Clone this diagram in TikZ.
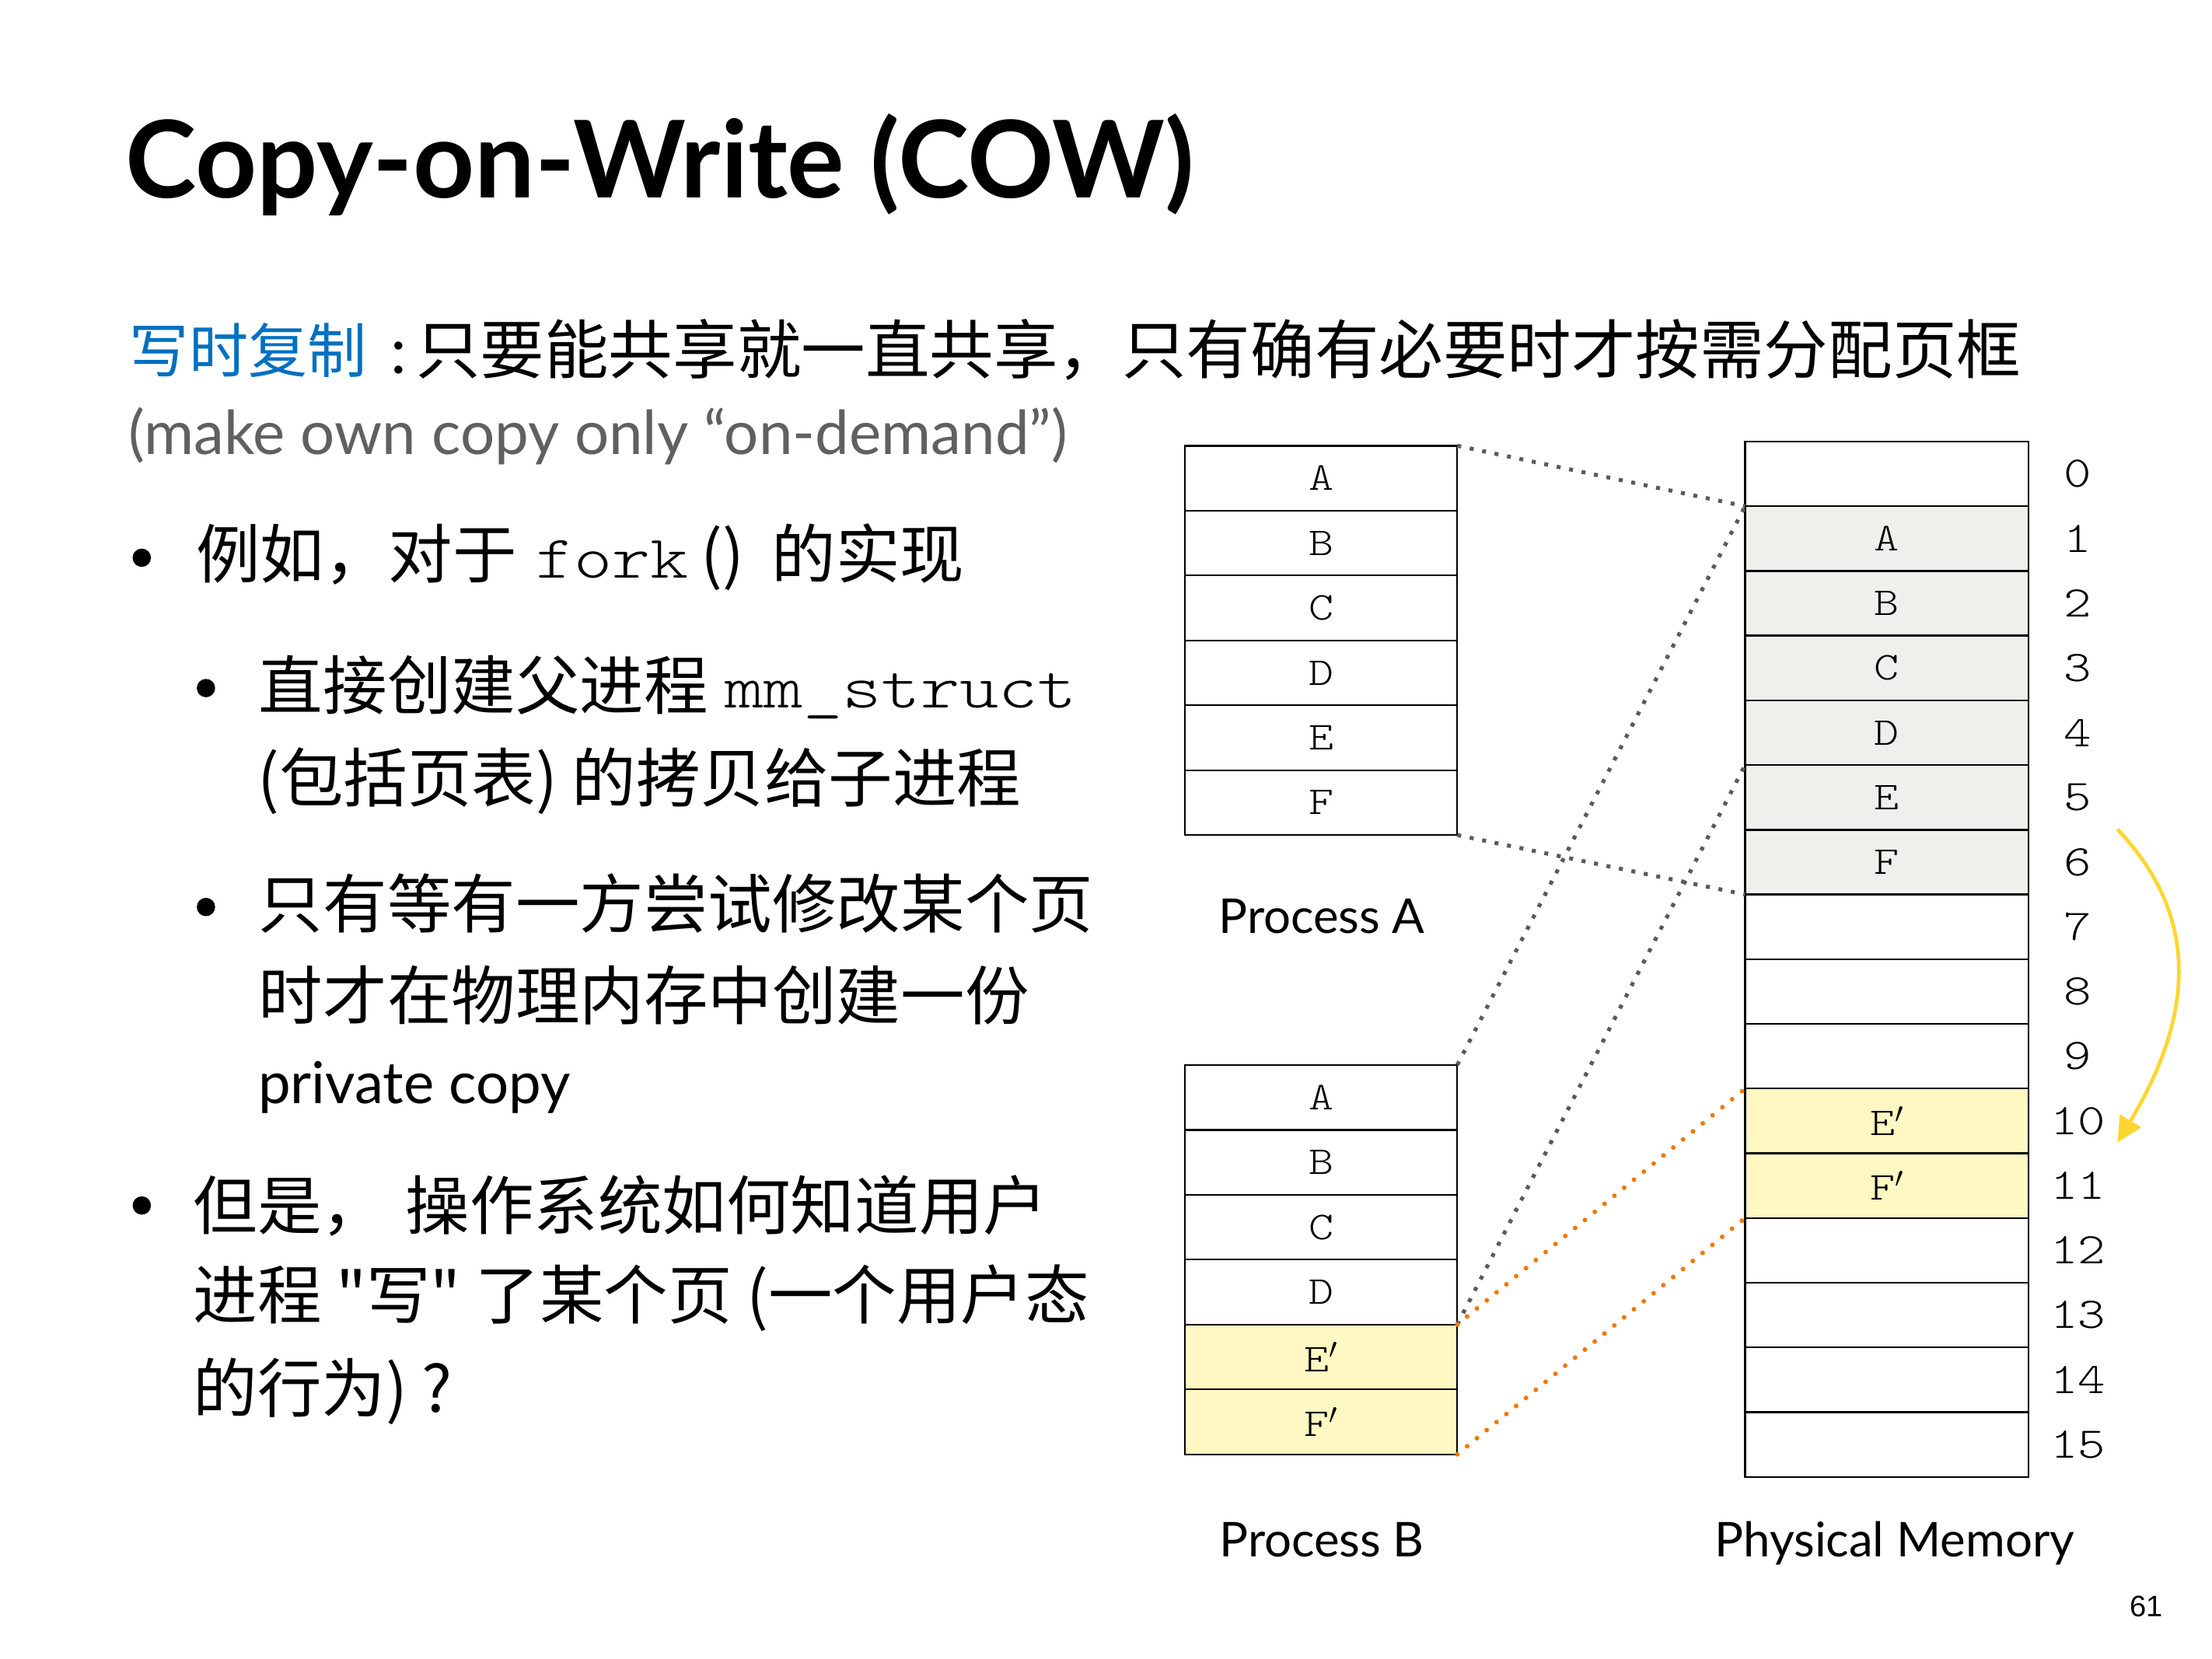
\documentclass[tikz,border=0pt]{standalone}
\usepackage{fontspec}
\setmainfont{Lato}
\newfontfamily\cjk{Noto Sans CJK SC}[Ligatures=TeXOff]
\newfontfamily\pgnum{Liberation Sans}
\newfontfamily\mono{lmmonolt10-regular.otf}[FakeStretch=1.2]
\usetikzlibrary{arrows.meta}

\definecolor{cowblue}{RGB}{0,112,192}
\definecolor{subgray}{RGB}{96,96,96}
\definecolor{dotgray}{RGB}{90,90,90}
\definecolor{cworange}{RGB}{240,120,0}
\definecolor{sharedfill}{RGB}{239,240,236}
\definecolor{copyfill}{RGB}{255,248,195}
\definecolor{arrowgold}{RGB}{255,214,48}

\begin{document}
\begin{tikzpicture}[x=1pt,y=-1pt,
  every node/.style={inner sep=0pt, outer sep=0pt},
  bodytext/.style={anchor=base west, font=\fontsize{45.5}{50}\selectfont\cjk},
  latintext/.style={anchor=base west},
  bulletdot/.style={circle, fill=black, minimum size=13pt},
  pagecell/.style={draw=black, line width=1.3pt, minimum width=193pt, minimum height=46pt,
                   font=\fontsize{28}{28}\selectfont\mono},
  pmcell/.style={pagecell, minimum width=201pt, minimum height=45.875pt},
  blank/.style={fill=white},
  shared/.style={fill=sharedfill},
  copied/.style={fill=copyfill},
  idx/.style={font=\fontsize{31}{31}\selectfont\mono},
  tablecap/.style={anchor=base, font=\fontsize{34}{34}\selectfont},
  sharemap/.style={draw=dotgray, line width=2.8pt, dash pattern=on 2.8pt off 6.2pt},
  copymap/.style={draw=cworange, line width=3.3pt, line cap=round, dash pattern=on 0pt off 9pt},
]
\useasboundingbox (0,0) rectangle (1568,1176);
\fill[white] (0,0) rectangle (1568,1176);

% heading
\node[latintext, font=\fontsize{76}{80}\selectfont\bfseries] (title) at (89,140) {Copy-on-Write (COW)};

% definition line
\node[bodytext, font=\fontsize{42}{42}\selectfont\cjk, text=cowblue] (def) at (92,264) {写时复制};
\node[latintext, font=\fontsize{45.5}{50}\selectfont] (colon) at (277,265) {:};
\node[bodytext] (defrest) at (295,265) {只要能共享就一直共享，只有确有必要时才按需分配页框};
\node[latintext, font=\fontsize{43}{43}\selectfont, text=subgray] (gloss) at (91,322) {(make own copy only “on-demand”)};

% bullet: fork()
\node[bulletdot] (b1) at (100.5,395.4) {};
\node[bodytext] (l1a) at (139,410) {例如，对于};
\node[latintext, font=\fontsize{43}{43}\selectfont\mono] (l1b) at (380,410) {fork};
\node[bodytext] (l1c) at (497,410) {()};
\node[bodytext] (l1d) at (547,410) {的实现};

% sub-bullet: mm_struct
\node[bulletdot] (b2) at (146,487.8) {};
\node[bodytext] (l2a) at (183.5,503) {直接创建父进程};
\node[latintext, font=\fontsize{44}{44}\selectfont\mono] (l2b) at (514,502) {mm\_struct};
\node[bodytext] (l2c) at (182.5,568.5) {(包括页表) 的拷贝给子进程};

% sub-bullet: private copy
\node[bulletdot] (b3) at (146,643) {};
\node[bodytext] (l3a) at (183.5,658) {只有等有一方尝试修改某个页};
\node[bodytext] (l3b) at (183.5,723) {时才在物理内存中创建一份};
\node[latintext, font=\fontsize{41}{41}\selectfont] (l3c) at (183,782.6) {private copy};

% bullet: question
\node[bulletdot] (b4) at (100.5,854.6) {};
\node[bodytext] (l4a) at (137,871.6) {但是，\hspace{14pt}操作系统如何知道用户};
\node[bodytext] (l4b) at (137,935) {进程 "写" 了某个页 (一个用户态};
\node[bodytext] (l4c) at (137,1001) {的行为) ?};

% process A page table
\foreach \i/\lab in {1/A,2/B,3/C,4/D,5/E,6/F}
  \node[pagecell, blank] (pa\i) at (936.5,{316+46*(\i-0.5)}) {\lab};

% process B page table
\foreach \i/\lab/\kind in {1/A/blank,2/B/blank,3/C/blank,4/D/blank,5/E$'$/copied,6/F$'$/copied}
  \node[pagecell, \kind] (pb\i) at (936.5,{755+46*(\i-0.5)}) {\lab};

% physical memory frames
\foreach \i/\lab/\kind in {0/{}/blank,1/A/shared,2/B/shared,3/C/shared,4/D/shared,5/E/shared,
    6/F/shared,7/{}/blank,8/{}/blank,9/{}/blank,10/E$'$/copied,11/F$'$/copied,
    12/{}/blank,13/{}/blank,14/{}/blank,15/{}/blank}
  \node[pmcell, \kind] (pm\i) at (1337.5,{313+45.875*(\i+0.5)}) {\lab};

% frame numbers
\foreach \i in {0,...,15}
  \node[idx] (n\i) at (1473,{313+45.875*(\i+0.5)}) {\i};

% shared mappings
\draw[sharemap] (pa1.north east) -- (pm1.north west);
\draw[sharemap] (pa6.south east) -- (pm6.south west);
\draw[sharemap] (pb1.north east) -- (pm1.north west);
\draw[sharemap] (pb4.south east) -- (pm4.south west);

% private copies
\draw[copymap] (pb5.north east) -- (pm10.north west);
\draw[copymap] (pb6.south east) -- (pm11.south west);

% copy movement
\coordinate (moveS) at (1501,588);
\coordinate (moveE) at (1501,810);
\draw[arrowgold, line width=2.6pt, -{Triangle[length=18pt,width=17pt]}]
  (moveS) .. controls (1560,650) and (1555,720) .. (moveE);

% captions
\node[tablecap] (capA) at (937,661.5) {Process A};
\node[tablecap] (capB) at (937,1103.5) {Process B};
\node[tablecap] (capM) at (1343,1103.5) {Physical Memory};

\node[latintext, font=\fontsize{21}{21}\selectfont\pgnum] (pageno) at (1510,1146) {61};
\end{tikzpicture}
\end{document}
